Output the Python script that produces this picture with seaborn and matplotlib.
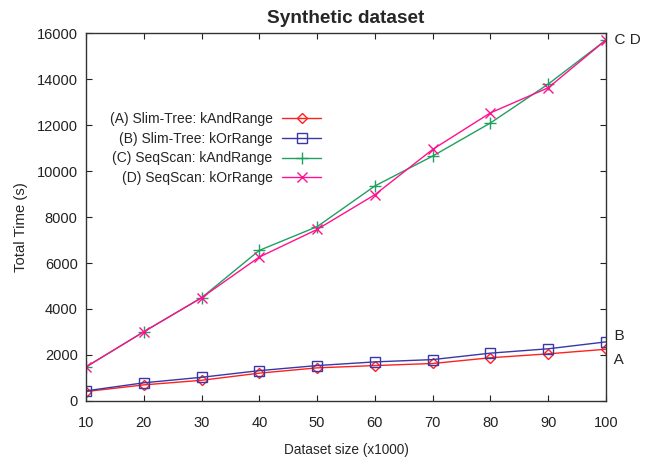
import numpy as np
import pandas as pd
import matplotlib
matplotlib.use('Agg')
import matplotlib.pyplot as plt
import seaborn as sns

# Dados
sizes = [10, 20, 30, 40, 50, 60, 70, 80, 90, 100]
slim_and = [410, 700, 900, 1210, 1440, 1540, 1630, 1880, 2050, 2250]
slim_or = [440, 790, 1030, 1320, 1540, 1700, 1800, 2080, 2270, 2570]
seq_and = [1480, 3010, 4490, 6550, 7580, 9350, 10650, 12090, 13780, 15700]
seq_or = [1480, 3010, 4490, 6260, 7460, 8970, 10940, 12530, 13620, 15700]

labels = ['(A) Slim-Tree: kAndRange', '(B) Slim-Tree: kOrRange',
          '(C) SeqScan: kAndRange', '(D) SeqScan: kOrRange']
colors = ['#ff2020', '#3838a8', '#20a060', '#ff1090']
markers = ['D', 's', '+', 'x']
msizes = [5, 7, 8, 7]

series = [slim_and, slim_or, seq_and, seq_or]

sns.set_style('ticks')
plt.rcParams['font.family'] = ['Liberation Sans', 'DejaVu Sans']

fig = plt.figure(figsize=(6.53, 4.59), dpi=100)
ax = fig.add_axes([0.1317, 0.1264, 0.7963, 0.8016])

for vals, lab, c, m, ms in zip(series, labels, colors, markers, msizes):
    df = pd.DataFrame({'size': sizes, 'time': vals})
    sns.lineplot(data=df, x='size', y='time', ax=ax, color=c, marker=m,
                 markersize=ms, markerfacecolor='none', markeredgecolor=c,
                 markeredgewidth=1.0, linewidth=1.0, label=lab)

ax.set_xlim(10, 100)
ax.set_ylim(0, 16000)
ax.set_xticks(sizes)
ax.set_yticks(np.arange(0, 16001, 2000))
ax.tick_params(direction='in', top=True, right=True, labelsize=10.5, length=4,
               colors='#222222')
ax.tick_params(axis='x', pad=11)
ax.tick_params(axis='y', pad=6)
for s in ax.spines.values():
    s.set_color('#333333')
    s.set_linewidth(1.0)

ax.set_title('Synthetic dataset', fontsize=13.7, fontweight='bold', pad=7)
ax.set_xlabel('Dataset size (x1000)', fontsize=9.8)
ax.set_ylabel('Total Time (s)', fontsize=10.7)
ax.xaxis.set_label_coords(0.5, -0.115)
ax.yaxis.set_label_coords(-0.112, 0.473)

ax.legend(loc='upper right', bbox_to_anchor=(0.452, 0.786), markerfirst=False,
          frameon=False, fontsize=10, handlelength=2.8, labelspacing=0.42,
          handletextpad=0.7, borderaxespad=0, borderpad=0)

# Etiquetas à direita das curvas
ax.text(100, seq_and[-1], '  C D', fontsize=11, va='center', ha='left',
        clip_on=False)
ax.text(100, slim_or[-1] + 250, '  B', fontsize=11, va='center', ha='left',
        clip_on=False)
ax.text(100, slim_and[-1] - 450, '  A', fontsize=11, va='center', ha='left',
        clip_on=False)

fig.savefig('out.png', dpi=100)
